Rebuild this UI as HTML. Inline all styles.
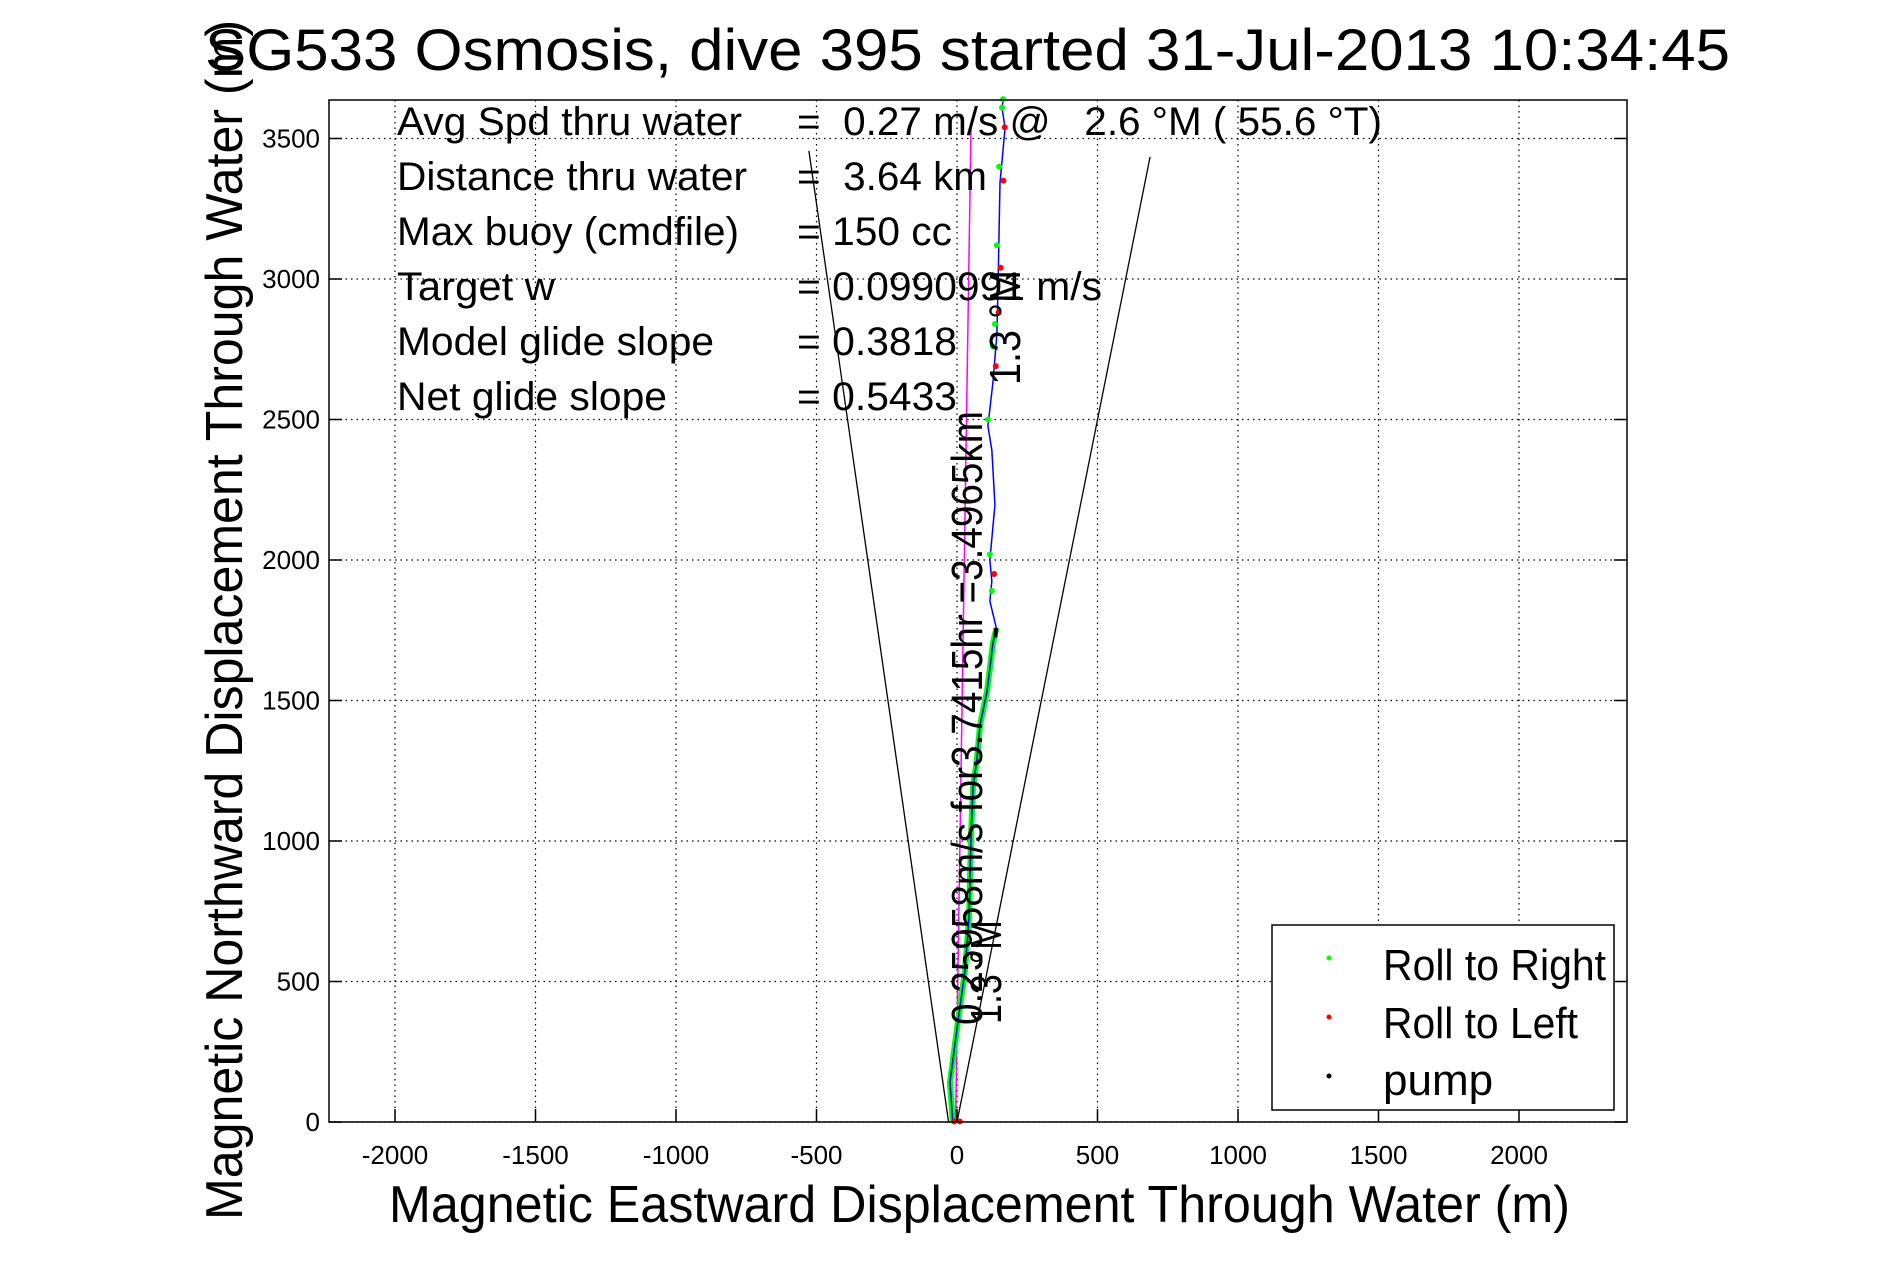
<!DOCTYPE html>
<html><head><meta charset="utf-8"><style>
html,body{margin:0;padding:0;background:#fff}
svg{display:block;font-family:"Liberation Sans",sans-serif}
</style></head><body>
<svg id="chart" width="1891" height="1262" viewBox="0 0 1891 1262">
<rect x="0" y="0" width="1891" height="1262" fill="#fff"/>
<g id="grid"></g>
<g id="marks"></g>
<rect x="329" y="100" width="1298" height="1022" fill="none" stroke="#000" stroke-width="1.5"/>
<g id="ticks"></g>
<text x="205" y="70" font-size="58" textLength="1525" lengthAdjust="spacingAndGlyphs">SG533 Osmosis, dive 395 started 31-Jul-2013 10:34:45</text>
<text x="389" y="1222" font-size="52" textLength="1181" lengthAdjust="spacingAndGlyphs">Magnetic Eastward Displacement Through Water (m)</text>
<text transform="translate(242,1220) rotate(-90)" x="0" y="0" font-size="52" textLength="1200" lengthAdjust="spacingAndGlyphs">Magnetic Northward Displacement Through Water (m)</text>
<g font-size="40">
<text x="397" y="135" textLength="345" lengthAdjust="spacingAndGlyphs">Avg Spd thru water</text>
<text x="797" y="135" textLength="585" lengthAdjust="spacingAndGlyphs" xml:space="preserve">=  0.27 m/s @   2.6 °M ( 55.6 °T)</text>
<text x="397" y="190" textLength="350" lengthAdjust="spacingAndGlyphs">Distance thru water</text>
<text x="797" y="190" textLength="190" lengthAdjust="spacingAndGlyphs" xml:space="preserve">=  3.64 km</text>
<text x="397" y="245" textLength="342" lengthAdjust="spacingAndGlyphs">Max buoy (cmdfile)</text>
<text x="797" y="245" textLength="155" lengthAdjust="spacingAndGlyphs">= 150 cc</text>
<text x="397" y="300" textLength="158" lengthAdjust="spacingAndGlyphs">Target w</text>
<text x="797" y="300" textLength="305" lengthAdjust="spacingAndGlyphs">= 0.0990991 m/s</text>
<text x="397" y="355" textLength="317" lengthAdjust="spacingAndGlyphs">Model glide slope</text>
<text x="797" y="355" textLength="160" lengthAdjust="spacingAndGlyphs">= 0.3818</text>
<text x="397" y="410" textLength="270" lengthAdjust="spacingAndGlyphs">Net glide slope</text>
<text x="797" y="410" textLength="160" lengthAdjust="spacingAndGlyphs">= 0.5433</text>
</g>
<text transform="translate(982,1025) rotate(-90)" font-size="44" textLength="614" lengthAdjust="spacingAndGlyphs">0.25958m/s for3.7415hr =3.4965km</text>
<text transform="translate(1001,1024) rotate(-90)" font-size="44" textLength="104" lengthAdjust="spacingAndGlyphs">1.3 °M</text>
<text transform="translate(1020,385) rotate(-90)" font-size="44" textLength="115" lengthAdjust="spacingAndGlyphs">1.3 °M</text>
<g>
<rect x="1272" y="925" width="342" height="185" fill="#fff" stroke="#000" stroke-width="1.5"/>
<circle cx="1329" cy="958" r="2.5" fill="#00ff00"/>
<text x="1383" y="980" font-size="44" textLength="223" lengthAdjust="spacingAndGlyphs">Roll to Right</text>
<circle cx="1329" cy="1017" r="2.5" fill="#ff0000"/>
<text x="1383" y="1038" font-size="44" textLength="195" lengthAdjust="spacingAndGlyphs">Roll to Left</text>
<circle cx="1329" cy="1076" r="2.5" fill="#000"/>
<text x="1383" y="1095" font-size="44">pump</text>
</g>
</svg>
<script>
const xTicks = [-2000,-1500,-1000,-500,0,500,1000,1500,2000];
const yTicks = [0,500,1000,1500,2000,2500,3000,3500];
const diveX = [-15,-25,4,28,43,50,57,71,82,107,128,140];
const diveY = [0,142,363,534,730,1021,1192,1292,1413,1534,1705,1758];
const climbX = [140,117,124,117,135,124,110,128,142,146,153,171,160,164];
const climbY = [1758,1854,1925,2000,2196,2391,2477,2633,2804,2975,3342,3537,3612,3633];
const rightX = [110,124,117,128,135,142,150,160,164];
const rightY = [2500,1890,2020,2760,2840,3120,3400,3610,3640];
const leftX = [132,138,148,155,165,170,-10,10];
const leftY = [1950,2690,2880,3040,3350,3540,2,2];
const wedgeLX = [-30,-527];
const wedgeLY = [0,3456];
const wedgeRX = [0,687];
const wedgeRY = [0,3434];
const avgX = [-5,50];
const avgY = [0,3550];

const NS='http://www.w3.org/2000/svg';
const X=v=>957+v*0.281, Y=v=>1122-v*0.281;
function mk(tag,attrs,parent){const e=document.createElementNS(NS,tag);for(const k in attrs)e.setAttribute(k,attrs[k]);document.getElementById(parent).appendChild(e);return e;}
xTicks.forEach(t=>{
  const g=mk('line',{x1:X(t),x2:X(t),y1:100,y2:1122,stroke:'#000','stroke-width':1.2,'stroke-dasharray':'1.5 4'},'grid');
  
  
  const tk=mk('line',{x1:X(t),x2:X(t),y1:1122,y2:1109,stroke:'#000','stroke-width':1.5},'ticks');
  
  
  const lb=mk('text',{x:X(t),y:1164,'font-size':26,'text-anchor':'middle'},'ticks');
  lb.textContent=t;
  
  
});
yTicks.forEach(t=>{
  const g=mk('line',{x1:329,x2:1627,y1:Y(t),y2:Y(t),stroke:'#000','stroke-width':1.2,'stroke-dasharray':'1.5 4'},'grid');
  
  
  const tk=mk('line',{x1:329,x2:342,y1:Y(t),y2:Y(t),stroke:'#000','stroke-width':1.5},'ticks');
  
  
  const tk2=mk('line',{x1:1614,x2:1627,y1:Y(t),y2:Y(t),stroke:'#000','stroke-width':1.5},'ticks');
  
  
  const lb=mk('text',{x:320,y:Y(t)+9,'font-size':26,'text-anchor':'end'},'ticks');
  lb.textContent=t;
  
  
});
function pts(xs,ys){return xs.map((v,i)=>X(v)+','+Y(ys[i])).join(' ');}
const wl=mk('polyline',{points:pts(wedgeLX,wedgeLY),fill:'none',stroke:'#000','stroke-width':1.3},'marks');


const wr=mk('polyline',{points:pts(wedgeRX,wedgeRY),fill:'none',stroke:'#000','stroke-width':1.3},'marks');


const av=mk('polyline',{points:pts(avgX,avgY),fill:'none',stroke:'#ff00ff','stroke-width':1.5},'marks');


const dg=mk('polyline',{points:pts(diveX,diveY),fill:'none',stroke:'#00ff00','stroke-width':6},'marks');


const dv=mk('polyline',{points:pts(diveX,diveY),fill:'none',stroke:'#0000ff','stroke-width':1.5},'marks');


const cl=mk('polyline',{points:pts(climbX,climbY),fill:'none',stroke:'#0000ff','stroke-width':1.5},'marks');


const pm=mk('line',{x1:X(diveX[diveX.length-2]+8),y1:Y(diveY[diveY.length-2]+20),x2:X(diveX[diveX.length-1]),y2:Y(diveY[diveY.length-1]),stroke:'#000','stroke-width':4},'marks');


rightX.forEach((v,i)=>{
  const c=mk('circle',{cx:X(v),cy:Y(rightY[i]),r:3,fill:'#00ff00'},'marks');
  
  
});
leftX.forEach((v,i)=>{
  const c=mk('circle',{cx:X(v),cy:Y(leftY[i]),r:3,fill:'#ff0000'},'marks');
  
  
});
</script>
</body></html>
